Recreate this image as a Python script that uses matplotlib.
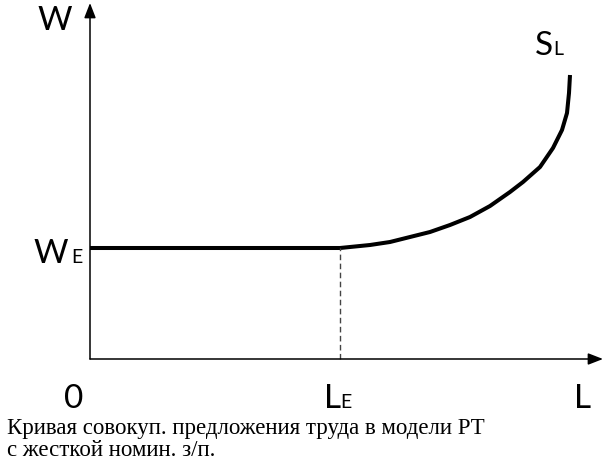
import matplotlib.pyplot as plt

# Данные кривой предложения труда (координаты в пикселях от начала осей)
w_e = 111
l_e = 250
curve_x = [250, 260, 280, 300, 320, 340, 360, 380, 400, 420, 433, 450, 463, 472, 477, 479, 480]
curve_y = [111, 112, 114, 117, 122, 127, 134, 142, 153, 167, 177, 192, 211, 229, 246, 266, 284]

caption = ["Кривая совокуп. предложения труда в модели РТ",
           "с жесткой номин. з/п."]

fig = plt.figure(figsize=(6.05, 4.68), dpi=100)
ax = fig.add_axes([0, 0, 1, 1])
ax.set_xlim(-90, 515)
ax.set_ylim(-109, 359)
ax.axis("off")

# Оси со стрелками
arrow = dict(arrowstyle="-|>,head_length=0.9,head_width=0.35", color="black",
             lw=1.1, shrinkA=0, shrinkB=0)
ax.annotate("", xy=(513, 0), xytext=(0, 0), arrowprops=arrow)
ax.annotate("", xy=(0, 356), xytext=(0, 0), arrowprops=arrow)

# Горизонтальный участок и кривая
ax.plot([0, l_e], [w_e, w_e], color="black", lw=2.9, solid_capstyle="butt")
ax.plot(curve_x, curve_y, color="black", lw=2.9, solid_capstyle="butt",
        solid_joinstyle="round")
ax.plot([l_e, l_e], [0, w_e], color="#444444", lw=1.0, ls=(0, (4, 2.5)))

font = "Lato"
big = 24
small = 14
ax.text(-53, 329, "W", fontsize=big, family=font, va="baseline")
ax.text(-22, 96, "W", fontsize=big, family=font, va="baseline", ha="right")
ax.text(-19, 96, "E", fontsize=small, family=font, va="baseline")
ax.text(445, 304, "S", fontsize=big, family=font, va="baseline")
ax.text(463, 304, "L", fontsize=small, family=font, va="baseline")
ax.text(-16, -49, "0", fontsize=big, family=font, va="baseline", ha="center")
ax.text(234, -49, "L", fontsize=big, family=font, va="baseline")
ax.text(250, -49, "E", fontsize=small, family=font, va="baseline")
ax.text(484, -49, "L", fontsize=big, family=font, va="baseline")

ax.text(-83, -75, caption[0], fontsize=16.5, family="Liberation Serif", va="baseline")
ax.text(-83, -97, caption[1], fontsize=16.5, family="Liberation Serif", va="baseline")

fig.savefig("out.png", dpi=100)
